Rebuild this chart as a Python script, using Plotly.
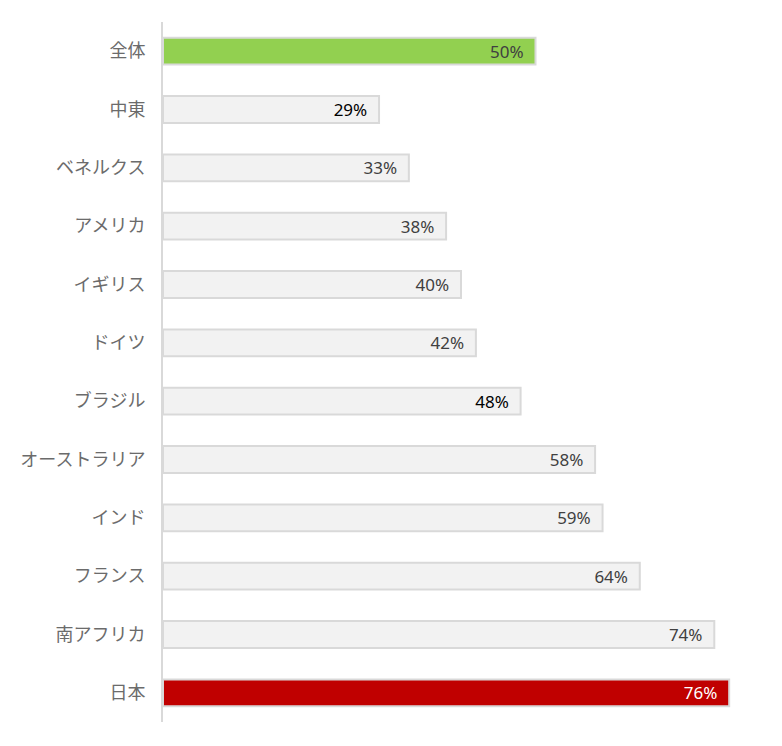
import plotly.graph_objects as go

# 地域別の値（上から順）
regions = ["全体", "中東", "ベネルクス", "アメリカ", "イギリス", "ドイツ", "ブラジル",
           "オーストラリア", "インド", "フランス", "南アフリカ", "日本"]
values = [50, 29, 33, 38, 40, 42, 48, 58, 59, 64, 74, 76]
labels = ["50%", "29%", "33%", "38%", "40%", "42%", "48%", "58%", "59%", "64%", "74%", "76%"]

fill_colors = ["#92d050"] + ["#f2f2f2"] * 10 + ["#c00000"]
text_colors = ["#404040", "#000000", "#404040", "#404040", "#404040", "#404040",
               "#000000", "#404040", "#404040", "#404040", "#404040", "#ffffff"]

# 少し右側に余白を持たせる
padded = [t + "\u00a0\u00a0" for t in labels]

fig = go.Figure(go.Bar(
    x=values,
    y=regions,
    orientation="h",
    text=padded,
    textposition="inside",
    insidetextanchor="end",
    constraintext="none",
    textfont=dict(size=17, color=text_colors, family="Noto Sans, sans-serif"),
    marker=dict(color=fill_colors, line=dict(color="#d9d9d9", width=2)),
    hoverinfo="skip",
))

fig.update_layout(
    width=782,
    height=746,
    margin=dict(l=155, r=31, t=14, b=32),
    paper_bgcolor="white",
    plot_bgcolor="white",
    bargap=0.54,
    showlegend=False,
    font=dict(family="Noto Sans CJK JP, sans-serif"),
)
fig.update_xaxes(range=[0, 80], visible=False, fixedrange=True)
fig.update_yaxes(
    autorange="reversed",
    showline=True,
    linecolor="#d9d9d9",
    linewidth=2,
    ticks="",
    ticklabelstandoff=12,
    tickfont=dict(size=18, color="#6b6b6b"),
    showgrid=False,
    fixedrange=True,
)

fig.write_html("out.html")
